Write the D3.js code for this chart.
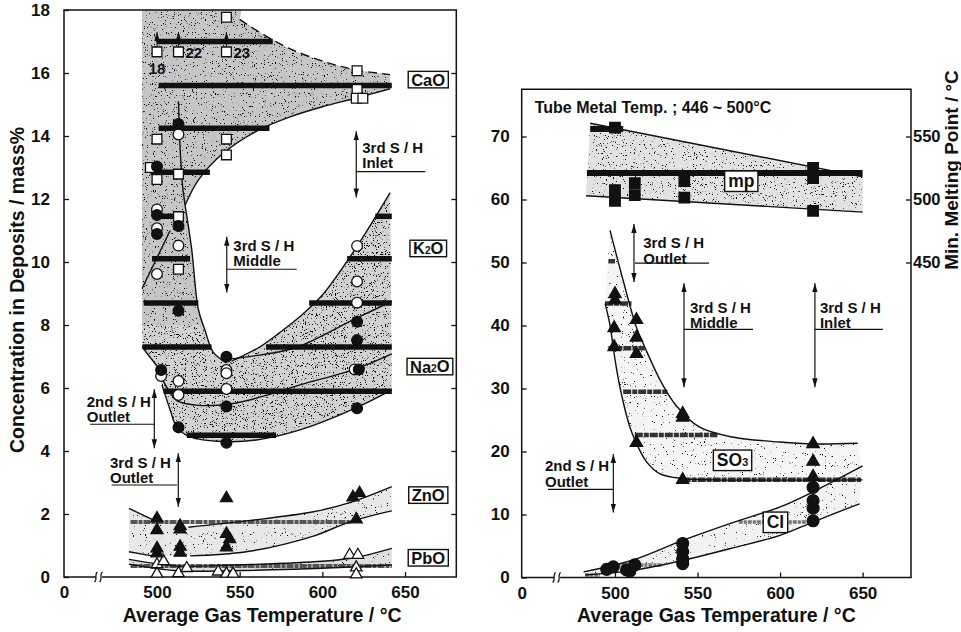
<!DOCTYPE html>
<html><head><meta charset="utf-8">
<script src="https://cdn.jsdelivr.net/npm/d3@7"></script>
<style>
body{margin:0;background:#fff;}
text{font-family:"Liberation Sans",Arial,Helvetica,sans-serif;font-weight:bold;fill:#111;}
</style></head><body>
<svg id="c" width="961" height="632"></svg>
<script>
// ---------------- DATA ----------------
const xTickValues = [0, 500, 550, 600, 650];
const leftYTicks = [0, 2, 4, 6, 8, 10, 12, 14, 16, 18];
const rightYTicks = [0, 10, 20, 30, 40, 50, 60, 70];
const mpTicks = [450, 500, 550];

// Left panel markers [T, value]
const caoSquares = [[500,16.67],[513,16.67],[542,16.67],[542,17.77],[621,16.07],[621,15.48],[620.5,15.2],[624.5,15.2],
  [500,13.9],[542,13.9],[542,13.4],[496,13.0],[500,12.62],[513,12.79],[513,11.44],[513,9.77]];
const openCircles = [[513,14.05],[500,11.67],[500,11.07],[513,10.52],[500,9.62],[621,10.51],[621,9.38],[621,8.71],
  [619.5,6.59],[502.5,6.38],[513,6.22],[513,5.78],[542,6.57],[542,6.47],[542,5.97]];
const filledCircles = [[513,14.38],[500,13.03],[500,11.49],[500,10.89],[513,11.14],[513,8.45],[621,8.1],[621,7.52],
  [622,6.59],[621,5.36],[502.5,6.57],[513,4.75],[542,6.99],[542,5.41],[542,4.26]];
const znoTriangles = [[500,1.86],[500,1.49],[500,0.91],[500,0.75],[514,1.62],[514,1.51],[514,0.96],[514,0.77],
  [542,2.5],[542,1.37],[544,1.2],[542,0.94],[618.5,2.53],[622.5,2.66],[620.5,1.83]];
const pboTriangles = [[500,0.4],[500,0.1],[504,0.5],[513,0.12],[518,0.28],[537,0.17],[542,0.1],[546,0.1],
  [616.5,0.7],[621.5,0.7],[620.5,0.3],[620.5,0.08]];
const sampleIds = [["18",500],["22",513],["23",542]];

// Left panel thick bars [value, T0, T1]
const leftBars = [[17.0,500,570],[15.6,501,642],[14.25,501,568],[12.85,496,532],[11.45,498,514],[11.45,632,642],
  [10.1,497,520],[10.1,615,642],[8.7,492,525],[8.7,592,642],[7.3,491.5,533],[7.3,566,642],[5.9,504,642],[4.5,518,572]];
const leftLightBars = [[1.75,484,617],[0.35,484,642]];

// Left panel curves [T, value]
const caoUpper = [[550,17.7],[565,17.2],[580,16.78],[600,16.38],[620,16.1],[641,15.95]];
const caoLower = [[517,11.8],[525,12.6],[540,13.45],[560,14.15],[580,14.6],[600,14.93],[620,15.2],[641,15.5]];
const curveATop = [[513,15.1],[514,13.6],[515.5,12.4],[517,11.8]];
const curveA = [[517,11.8],[521,10.4],[525,8.5],[529,7.84],[534,7.14],[542,6.8]];
const k2oUpper = [[545,6.85],[562,7.3],[574,7.75],[586.5,8.27],[600,8.95],[621,10.5],[641,12.2]];
const k2oLower = [[541,6.9],[574,7.15],[586.5,7.33],[620,8.2],[642,8.75]];
const k2oLeft = [[491,9.16],[508,11.0]];
const na2oLeft = [[491,7.3],[500,6.7]];
const na2oUpper = [[503,6.3],[508,5.85],[512,5.6],[525,5.45],[545,5.5],[565,5.75],[586.5,6.1],[620,6.6],[642,7.08]];
const na2oLower = [[503,6.1],[508,5.3],[512,4.75],[520,4.45],[540,4.3],[560,4.35],[586.5,4.67],[620,5.36],[642,5.94]];
const znoUpperL = [[483,2.18],[497,1.83]];
const znoUpper = [[519,1.58],[554,1.78],[594.6,2.07],[617,2.37],[642,2.87]];
const znoLowerL = [[483,0.8],[497,0.67]];
const znoLower = [[520,0.67],[554,0.8],[594.6,1.3],[617,1.76],[642,2.1]];
const pboUpper = [[483,0.56],[512,0.35],[545,0.38],[600,0.5],[620,0.62],[642,0.91]];
const pboLower = [[483,0.41],[512,0.2],[545,0.2],[610,0.3],[642,0.38]];

// Right panel markers
const mpSquares = [[500,71.4],[500,61.5],[500,59.8],[512,62.6],[512,60.7],[542,62.9],[542,60.3],[620,65.0],[620,63.4],[620,58.2]];
const so3Triangles = [[500,45.0],[500,44.0],[499.5,39.6],[499.5,36.6],[513,40.9],[513,38.1],[513,35.5],[541,26.0],
  [541,25.4],[513,21.4],[541,15.5],[620,21.2],[620,18.4],[620,16.0]];
const clCircles = [[620,14.3],[620,12.2],[620,11.0],[620,9.0],[541,5.4],[541,4.1],[541,2.9],[541,2.2],
  [495,1.3],[499,1.7],[507,1.2],[512,2.0],[509,1.0]];

// Right panel bars
const rightBars = [[71.2,485,505],[64.2,483,650]];
const so3Bars = [[50.2,496,500],[43.5,494,510],[36.4,496,518],[29.5,505,532],[22.6,512,562],[15.5,541,649]];
const clBars = [[8.8,575,618],[2.0,493,529],[0.4,482,491]];

// Right panel curves
const mpUpper = [[485,72.1],[650,63.6]];
const mpLower = [[482.5,60.6],[650,58.0]];
const so3Upper = [[497,55.1],[505,47.1],[513,39.7],[518,36.6],[528,31],[537,27.3],[551,23.9],[571,22.3],[600,21.5],[620,21.2],[647,21.3]];
const so3Lower = [[494,43.5],[497,40],[499.6,35.3],[503,30.2],[509,23.9],[513,21.3],[519,18.4],[527,16.5],[541,15.7],[560,15.5],[650,15.5]];
const clUpper = [[481,0.9],[510,2.7],[541,5.9],[570,8.6],[600,11.2],[620,13.6],[650,17.7]];
const clLower = [[482,0.4],[510,1.1],[541,2.7],[570,4.6],[600,6.7],[620,8.8],[648,11.7]];

// Labels
const leftBoxes = [["CaO",664,15.79],["K|2|O",664,10.43],["Na|2|O",665,6.68],["ZnO",664,2.6],["PbO",664,0.61]];
const rightBoxes = [["mp",576.5,62.9],["SO|3|",571.2,18.6],["Cl",597.2,8.76]];
// annotations: label lines, arrow T, v0, v1, text dx, text baseline value, underline dx0, dx1, underline value
const leftNotes = [
  [["3rd S / H","Inlet"],620.5,14.15,12.05,6,13.47,0,69,12.87],
  [["3rd S / H","Middle"],542.2,10.8,9.03,6.6,10.35,0,70,9.77],
  [["2nd S / H","Outlet"],498.4,5.96,4.09,-67.6,5.4,-64.3,0,4.85],
  [["3rd S / H","Outlet"],512.9,3.93,2.23,-68.3,3.47,-66.6,-1,2.92]
];
const rightNotes = [
  [["3rd S / H","Outlet"],511.5,56.1,46.9,9.3,52.3,1,75,49.9],
  [["3rd S / H","Middle"],541.8,46.7,30.2,6,42,0,69,39.4],
  [["3rd S / H","Inlet"],621.1,46.7,30.2,5,42,0,68,39.4],
  [["2nd S / H","Outlet"],499,19.6,10.3,-68.3,16.9,-65.3,0,14.0]
];
const tubeNote = "Tube Metal Temp. ; 446 ~ 500°C";

// ---------------- SCALES ----------------
const svg = d3.select("#c");
const xL = d3.scaleLinear().domain([0,465,681]).range([64,99.1,456.3]);
const yL = d3.scaleLinear().domain([0,18]).range([577,10]);
const xR = d3.scaleLinear().domain([0,465,679.3]).range([521.7,557.2,911]);
const yR = d3.scaleLinear().domain([0,70]).range([577.5,136.5]);
const yRTop = 77.5;

const defs = svg.append("defs");
function stipple(id, D){
  const f = defs.append("filter").attr("id",id).attr("x","0").attr("y","0").attr("width","1").attr("height","1");
  f.append("feTurbulence").attr("type","fractalNoise").attr("baseFrequency",0.9).attr("numOctaves",2).attr("seed",4).attr("result","n");
  f.append("feColorMatrix").attr("in","n").attr("type","matrix")
    .attr("values",`0 0 0 0 0  0 0 0 0 0  0 0 0 0 0  -14 0 0 0 ${D}`).attr("result","d");
  f.append("feComposite").attr("in","d").attr("in2","SourceAlpha").attr("operator","in");
}
stipple("stD",5.6); stipple("stM",5.2); stipple("stL",4.7); stipple("stVL",4.2);
defs.append("marker").attr("id","ah").attr("viewBox","0 0 10 10").attr("refX",10).attr("refY",5)
  .attr("markerWidth",9).attr("markerHeight",9).attr("markerUnits","userSpaceOnUse").attr("orient","auto-start-reverse")
  .append("path").attr("d","M0,2 L10,5 L0,8 Z").attr("fill","#111");

const curve = (xs,ys)=>d3.line().x(d=>xs(d[0])).y(d=>ys(d[1])).curve(d3.curveCatmullRom.alpha(0.5));
function sample(pts,xs,ys,n=40){
  const p = svg.append("path").attr("d",curve(xs,ys)(pts));
  const node=p.node(), L=node.getTotalLength(), out=[];
  for(let i=0;i<=n;i++){const q=node.getPointAtLength(L*i/n); out.push([q.x,q.y]);}
  p.remove(); return out;
}
const P = (xs,ys,pts)=>pts.map(d=>[xs(d[0]),ys(d[1])]);
const layer = svg.append("g");
function shade(pts, base, filt){
  const d = d3.line().curve(d3.curveLinearClosed)(pts);
  layer.append("path").attr("d",d).attr("fill",base);
  layer.append("path").attr("d",d).attr("fill","#000").attr("filter",`url(#${filt})`);
}

// ---------------- SHADING ----------------
const mainPoly = [].concat(
  P(xL,yL,[[491,18],[551,18]]),
  sample(caoUpper,xL,yL),
  sample(caoLower,xL,yL).reverse(),
  sample(curveA,xL,yL),
  sample(k2oUpper,xL,yL),
  sample(na2oLower,xL,yL).reverse(),
  P(xL,yL,[[500,6.7],[491,7.3]])
);
shade(mainPoly,"#d2d2d2","stM");
const caoPoly = [].concat(P(xL,yL,[[491,18],[551,18]]), sample(caoUpper,xL,yL), sample(caoLower,xL,yL).reverse(),
  sample(curveA,xL,yL).slice(0,30), P(xL,yL,[[491,8.0]]));
shade(caoPoly,"#c6c6c6","stL");
shade([].concat(sample(znoUpperL,xL,yL),sample(znoUpper,xL,yL),sample(znoLower,xL,yL).reverse(),sample(znoLowerL,xL,yL).reverse()),"#e8e8e8","stVL");
shade([].concat(sample(pboUpper,xL,yL),sample(pboLower,xL,yL).reverse()),"#dedede","stVL");
shade([].concat(P(xR,yR,mpUpper),P(xR,yR,mpLower).reverse()),"#e2e2e2","stL");
shade([].concat(sample(so3Upper,xR,yR),sample(so3Lower,xR,yR).reverse()),"#f5f5f5","stVL");
shade([].concat(sample(clUpper,xR,yR),sample(clLower,xR,yR).reverse()),"#f2f2f2","stVL");

// ---------------- BARS ----------------
const g = svg.append("g");
function bars(data,xs,ys,color,w,dash){
  g.selectAll(null).data(data).enter().append("line")
    .attr("x1",d=>xs(d[1])).attr("x2",d=>xs(d[2])).attr("y1",d=>ys(d[0])).attr("y2",d=>ys(d[0]))
    .attr("stroke",color).attr("stroke-width",w).attr("stroke-dasharray",dash||null);
}
bars(leftBars,xL,yL,"#111",5.5);
bars(leftLightBars,xL,yL,"#555",4,"7,1,4,1");
bars(rightBars,xR,yR,"#111",6);
bars(so3Bars,xR,yR,"#333",4.5,"8,1,5,1");
bars(clBars,xR,yR,"#777",3.5,"4,1,3,1");

// ---------------- CURVES ----------------
function drawCurve(pts,xs,ys,dash,w){
  g.append("path").attr("d",curve(xs,ys)(pts)).attr("fill","none").attr("stroke","#111")
   .attr("stroke-width",w||1.4).attr("stroke-dasharray",dash||null);
}
drawCurve(caoUpper,xL,yL,"9,5");
[caoLower,curveATop,curveA,k2oUpper,k2oLower,k2oLeft,na2oLeft,na2oUpper,na2oLower,znoUpperL,znoUpper,znoLowerL,znoLower,pboUpper,pboLower]
  .forEach(c=>drawCurve(c,xL,yL));
[mpUpper,mpLower,so3Upper,so3Lower,clUpper,clLower].forEach(c=>drawCurve(c,xR,yR));

// ---------------- FRAMES & AXES ----------------
function frame(x0,x1,y0,y1){
  svg.append("rect").attr("x",x0).attr("y",y0).attr("width",x1-x0).attr("height",y1-y0)
    .attr("fill","none").attr("stroke","#111").attr("stroke-width",1.5);
}
frame(xL(0),xL(681),yL(18),yL(0));
frame(xR(0),xR(679.3),yR(yRTop),yR(0));
function styleAxis(sel,fs){
  sel.select(".domain").remove();
  sel.selectAll("line").attr("stroke","#111").attr("stroke-width",1.3);
  sel.selectAll("text").style("font-size",fs+"px").attr("fill","#111");
}
svg.append("g").attr("transform",`translate(${xL(0)},0)`).call(d3.axisLeft(yL).tickValues(leftYTicks).tickSize(-5).tickPadding(14)).call(styleAxis,17);
svg.append("g").attr("transform",`translate(${xL(681)},0)`).call(d3.axisRight(yL).tickValues(leftYTicks.slice(1,9)).tickSize(-5).tickFormat("")).call(styleAxis,17);
svg.append("g").attr("transform",`translate(0,${yL(0)})`).call(d3.axisBottom(xL).tickValues(xTickValues).tickSize(-5).tickPadding(9)).call(styleAxis,17)
  .selectAll(".tick").filter(d=>d===0).select("line").remove();
svg.append("g").attr("transform",`translate(${xR(0)},0)`).call(d3.axisLeft(yR).tickValues(rightYTicks).tickSize(-5).tickPadding(12)).call(styleAxis,17);
svg.append("g").attr("transform",`translate(${xR(679.3)},0)`).call(d3.axisRight(yR).tickValues(mpTicks.map(m=>(m-200)/5)).tickSize(-5).tickPadding(2).tickFormat(v=>v*5+200)).call(styleAxis,16.5);
svg.append("g").attr("transform",`translate(0,${yR(0)})`).call(d3.axisBottom(xR).tickValues(xTickValues).tickSize(-5).tickPadding(9)).call(styleAxis,17)
  .selectAll(".tick").filter(d=>d===0).select("line").remove();

function brk(xs,ys,t){
  const x=xs(t), y=ys(0);
  svg.append("rect").attr("x",x-3).attr("y",y-2).attr("width",6).attr("height",4).attr("fill","#fff");
  [-3,2].forEach(o=>svg.append("path").attr("d",`M${x+o-1.5},${y+5} C${x+o+2},${y+3} ${x+o-2},${y-3} ${x+o+1.5},${y-5}`)
    .attr("fill","none").attr("stroke","#111").attr("stroke-width",1.2));
}
brk(xL,yL,463); brk(xR,yR,464);

svg.append("text").attr("x",(xL(0)+xL(681))/2+2).attr("y",622).attr("text-anchor","middle").style("font-size","19.5px").text("Average Gas Temperature / °C");
svg.append("text").attr("x",(xR(0)+xR(679.3))/2).attr("y",622).attr("text-anchor","middle").style("font-size","19.5px").text("Average Gas Temperature / °C");
svg.append("text").attr("transform","translate(24,290) rotate(-90)").attr("text-anchor","middle").style("font-size","19.5px").text("Concentration in Deposits / mass%");
svg.append("text").attr("transform","translate(951,170) rotate(-90)").attr("text-anchor","middle").attr("dominant-baseline","central").style("font-size","19px").text("Min. Melting Point / °C");

// ---------------- MARKERS ----------------
const m = svg.append("g");
function marks(data,xs,ys,type,size,filled){
  m.selectAll(null).data(data).enter().append("path")
   .attr("d",d3.symbol().type(type).size(size)())
   .attr("transform",d=>`translate(${xs(d[0])},${ys(d[1])})`)
   .attr("fill",filled?"#111":"#fff").attr("stroke","#111").attr("stroke-width",1.3);
}
marks(caoSquares,xL,yL,d3.symbolSquare,95,false);
marks(openCircles,xL,yL,d3.symbolCircle,90,false);
marks(filledCircles,xL,yL,d3.symbolCircle,90,true);
marks(pboTriangles,xL,yL,d3.symbolTriangle,58,false);
marks(znoTriangles,xL,yL,d3.symbolTriangle,62,true);
marks(mpSquares,xR,yR,d3.symbolSquare,110,true);
marks(so3Triangles,xR,yR,d3.symbolTriangle,66,true);
marks(clCircles,xR,yR,d3.symbolCircle,110,true);

sampleIds.forEach(([id,t],i)=>{
  m.append("line").attr("x1",xL(t)).attr("x2",xL(t)).attr("y1",yL(16.67)-5).attr("y2",yL(17.3))
   .attr("stroke","#111").attr("stroke-width",1).attr("marker-end","url(#ah)");
  if(i===0) m.append("text").attr("x",xL(t)).attr("y",yL(16.67)+22).attr("text-anchor","middle").style("font-size","15px").text(id);
  else m.append("text").attr("x",xL(t)+7).attr("y",yL(16.67)+6).style("font-size","15px").text(id);
});

function box(lbl,x,y,fs,h,pad){
  const gb = m.append("g");
  const parts = lbl.split("|");
  const t = gb.append("text").attr("x",x).attr("y",y).attr("text-anchor","middle").attr("dominant-baseline","central").style("font-size",fs+"px");
  parts.forEach((p,i)=>{ if(!p) return; const ts=t.append("tspan").text(p); if(i===1) ts.style("font-size",(fs*0.62)+"px").attr("dy","0.12em"); if(i===2) ts.attr("dy","-0.12em"); });
  const bb = t.node().getBBox();
  gb.insert("rect","text").attr("x",bb.x-pad).attr("y",y-h/2).attr("width",bb.width+2*pad).attr("height",h)
    .attr("fill","#fff").attr("stroke","#111").attr("stroke-width",1.4);
}
leftBoxes.forEach(b=>box(b[0],xL(b[1]),yL(b[2]),16.5,16.5,3));
rightBoxes.forEach(b=>box(b[0],xR(b[1]),yR(b[2]),17.5,20.5,3.5));

function note(n,xs,ys){
  const [lines,t,v0,v1,dx,tv,u0,u1,uv]=n; const x=xs(t);
  m.append("line").attr("x1",x).attr("x2",x).attr("y1",ys(v0)).attr("y2",ys(v1)).attr("stroke","#111").attr("stroke-width",1.2)
    .attr("marker-start","url(#ah)").attr("marker-end","url(#ah)");
  lines.forEach((s,i)=>m.append("text").attr("x",x+dx).attr("y",ys(tv)+i*15.5).style("font-size","15px").text(s));
  m.append("line").attr("x1",x+u0).attr("x2",x+u1).attr("y1",ys(uv)).attr("y2",ys(uv)).attr("stroke","#111").attr("stroke-width",1.2);
}
leftNotes.forEach(n=>note(n,xL,yL));
rightNotes.forEach(n=>note(n,xR,yR));
m.append("text").attr("x",xR(0)+13).attr("y",yR(73.8)).style("font-size","16px").text(tubeNote);
</script>
</body></html>
